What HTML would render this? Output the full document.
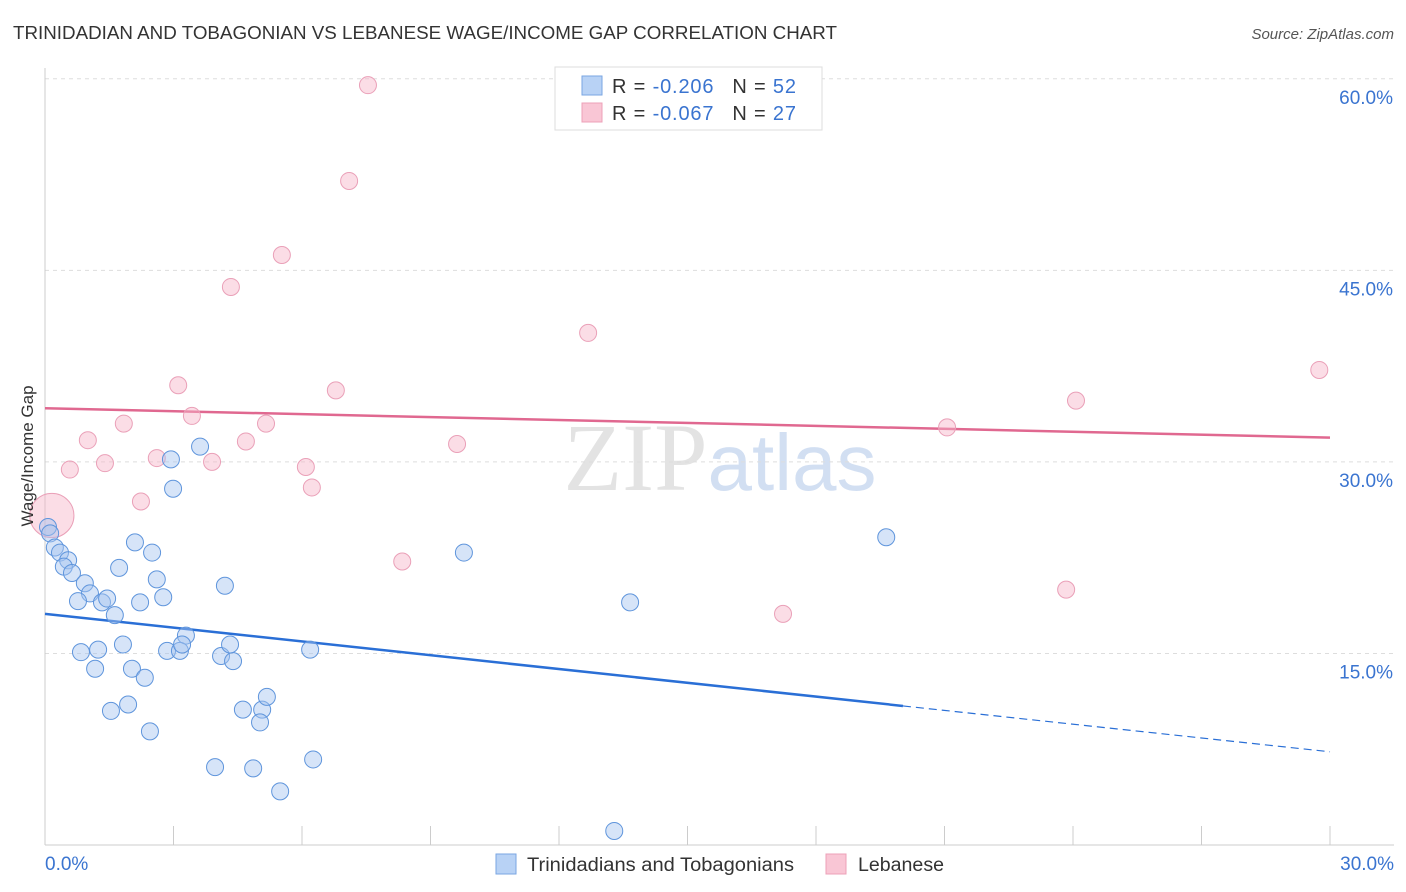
<!DOCTYPE html>
<html><head><meta charset="utf-8">
<style>
body{margin:0;background:#fff;font-family:"Liberation Sans",sans-serif;}
svg{display:block}
</style></head>
<body>
<svg id="chart" width="1406" height="892" xmlns="http://www.w3.org/2000/svg">
<text x="13" y="39" font-size="18" fill="#333" textLength="824" lengthAdjust="spacingAndGlyphs">TRINIDADIAN AND TOBAGONIAN VS LEBANESE WAGE/INCOME GAP CORRELATION CHART</text>
<text x="1394" y="39" font-size="15" fill="#555" font-style="italic" text-anchor="end">Source: ZipAtlas.com</text>
<text x="720" y="490" font-size="96" text-anchor="middle" font-family="Liberation Serif,serif" fill="#ddd" opacity="0.8">ZIP<tspan fill="#c8d8f0" font-family="Liberation Sans,sans-serif" font-size="80">atlas</tspan></text>
<g id="grid"></g><g id="axes"></g><g id="lines"></g><g id="dots"></g>
<text transform="translate(33,456) rotate(-90)" font-size="17" fill="#333" text-anchor="middle">Wage/Income Gap</text>
<g>
<rect x="555" y="67" width="267" height="63" fill="#fff" stroke="#ddd"/>
<rect x="582" y="76" width="20" height="19" fill="#b8d2f5" stroke="#7aa6e2"/>
<rect x="582" y="103" width="20" height="19" fill="#f9c6d5" stroke="#eda0b8"/>
<text x="612" y="93" font-size="20" fill="#333" textLength="184" lengthAdjust="spacing">R = <tspan fill="#3a74d0">-0.206</tspan><tspan dx="18">N = </tspan><tspan fill="#3a74d0">52</tspan></text>
<text x="612" y="120" font-size="20" fill="#333" textLength="184" lengthAdjust="spacing">R = <tspan fill="#3a74d0">-0.067</tspan><tspan dx="18">N = </tspan><tspan fill="#3a74d0">27</tspan></text>
</g>
<g>
<rect x="496" y="854" width="20" height="20" fill="#b8d2f5" stroke="#7aa6e2"/>
<text x="527" y="871" font-size="19" fill="#333" textLength="267" lengthAdjust="spacingAndGlyphs">Trinidadians and Tobagonians</text>
<rect x="826" y="854" width="20" height="20" fill="#f9c6d5" stroke="#eda0b8"/>
<text x="858" y="871" font-size="19" fill="#333" textLength="86" lengthAdjust="spacingAndGlyphs">Lebanese</text>
</g>
</svg>
<script>
const yTicks=[15,30,45,60];
const yTickLabels=["15.0%","30.0%","45.0%","60.0%"];
const xTickLabels=["0.0%","30.0%"];
const blueX=[0.07,0.12,0.23,0.35,0.54,0.44,0.63,0.93,1.05,0.77,1.33,1.45,1.63,1.73,2.10,2.50,2.61,2.76,2.22,3.62,2.94,2.99,4.20,0.84,1.24,1.17,1.82,2.03,2.33,1.54,1.94,2.45,3.29,2.85,3.15,3.20,4.11,4.39,4.32,4.62,5.07,5.18,5.02,6.19,3.97,4.86,5.49,6.26,9.78,13.66,13.29,19.64];
const blueY=[24.9,24.4,23.3,22.9,22.3,21.8,21.3,20.5,19.7,19.1,19.0,19.3,18.0,21.7,23.7,22.9,20.8,19.4,19.0,31.2,30.2,27.9,20.3,15.1,15.3,13.8,15.7,13.8,13.1,10.5,11.0,8.9,16.4,15.2,15.2,15.7,14.8,14.4,15.7,10.6,10.6,11.6,9.6,15.3,6.1,6.0,4.2,6.7,22.9,19.0,1.1,24.1];
const pinkX=[7.54,7.10,5.53,4.34,12.68,3.11,6.79,3.43,1.84,5.16,1.00,4.69,9.62,0.58,1.40,2.61,3.90,6.09,6.23,2.24,8.34,17.23,21.06,24.07,29.75,23.84,0.16];
const pinkY=[59.5,52.0,46.2,43.7,40.1,36.0,35.6,33.6,33.0,33.0,31.7,31.6,31.4,29.4,29.9,30.3,30.0,29.6,28.0,26.9,22.2,18.1,32.7,34.8,37.2,20.0,25.8];
const pinkSize=[1,1,1,1,1,1,1,1,1,1,1,1,1,1,1,1,1,1,1,1,1,1,1,1,1,1,2.6];
const blueTrend=[18.1,7.3];
const pinkTrend=[34.2,31.9];
const blueSolidEnd=20.03;

const NS="http://www.w3.org/2000/svg";
const X=v=>45+v*(1285/30);
const Y=v=>845-v*12.77;
function mk(tag,attrs,parent){const e=document.createElementNS(NS,tag);for(const k in attrs)e.setAttribute(k,attrs[k]);document.getElementById(parent).appendChild(e);return e;}
yTicks.forEach((t,i)=>{
 const g=mk('line',{x1:45,x2:1394,y1:Y(t),y2:Y(t),stroke:'#ddd','stroke-dasharray':'4,4'},'grid');
 
 
 const l=mk('text',{x:1393,y:Y(t)+25,'font-size':19,fill:'#3a74d0','text-anchor':'end'},'axes');
 l.textContent=yTickLabels[i];
 
 
});
const ax=mk('line',{x1:45,x2:1394,y1:845,y2:845,stroke:'#ccc'},'axes');


const ay=mk('line',{x1:45,x2:45,y1:68,y2:845,stroke:'#ccc'},'axes');


for(let i=0;i<=10;i++){
 const t=mk('line',{x1:X(i*3),x2:X(i*3),y1:826,y2:845,stroke:'#ccc'},'axes');
 
 
}
[[0,'start',45],[30,'end',1394]].forEach((d,i)=>{
 const l=mk('text',{x:d[2],y:870,'font-size':19,fill:'#3a74d0','text-anchor':d[1]},'axes');
 l.textContent=xTickLabels[i];
 
 
});
function trendY(tr,x){return tr[0]+(tr[1]-tr[0])*x/30;}
const pl=mk('line',{x1:X(0),y1:Y(pinkTrend[0]),x2:X(30),y2:Y(pinkTrend[1]),stroke:'#e06890','stroke-width':2.5},'lines');


const bl=mk('line',{x1:X(0),y1:Y(blueTrend[0]),x2:X(blueSolidEnd),y2:Y(trendY(blueTrend,blueSolidEnd)),stroke:'#2a6fd6','stroke-width':2.5},'lines');


const bd=mk('line',{x1:X(blueSolidEnd),y1:Y(trendY(blueTrend,blueSolidEnd)),x2:X(30),y2:Y(blueTrend[1]),stroke:'#2a6fd6','stroke-width':1.2,'stroke-dasharray':'8,5'},'lines');


pinkX.forEach((x,i)=>{
 const c=mk('circle',{cx:X(x),cy:Y(pinkY[i]),r:8.5*pinkSize[i],fill:'rgba(246,180,200,0.45)',stroke:'#eaa0b8','stroke-width':1},'dots');
 
 
});
blueX.forEach((x,i)=>{
 const c=mk('circle',{cx:X(x),cy:Y(blueY[i]),r:8.5,fill:'rgba(164,196,240,0.45)',stroke:'#5f95dc','stroke-width':1},'dots');
 
 
});
</script>
</body></html>
